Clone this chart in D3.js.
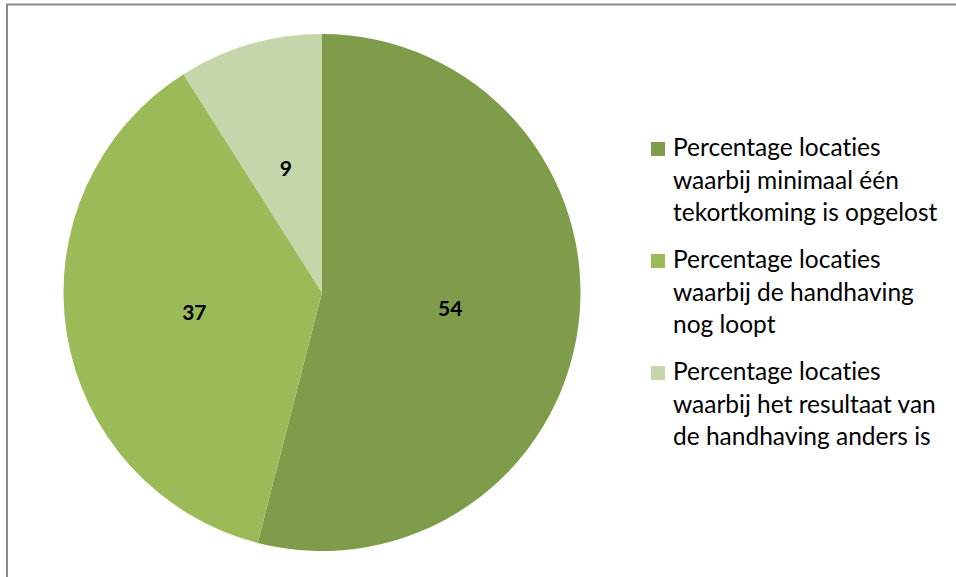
<!DOCTYPE html>
<html lang="nl">
<head>
    <meta charset="UTF-8">
    <title>Percentage locaties</title>
    <script src="https://d3js.org/d3.v7.min.js"></script>
    <style>
        body { margin: 0; background: #fff; }
        svg { display: block; }
        text { font-variant-ligatures: none; font-feature-settings: "liga" 0; }
        .legend text { font-family: Lato, "Open Sans", sans-serif; fill: #000; }
        .label { font-family: Lato, "Open Sans", sans-serif; font-weight: bold; fill: #000; }
    </style>
</head>
<body>
    <svg id="chart"></svg>
    <script>
        // data
        var categories = [
            "Percentage locaties waarbij minimaal één tekortkoming is opgelost",
            "Percentage locaties waarbij de handhaving nog loopt",
            "Percentage locaties waarbij het resultaat van de handhaving anders is"
        ];
        var values = [54, 37, 9];
        var legendLines = [
            ["Percentage locaties", "waarbij minimaal één", "tekortkoming is opgelost"],
            ["Percentage locaties", "waarbij de handhaving", "nog loopt"],
            ["Percentage locaties", "waarbij het resultaat van", "de handhaving anders is"]
        ];
        var colours = ["#7f9c4a", "#9bbb59", "#c5d6aa"];

        var width = 956, height = 577;
        var svg = d3.select("#chart")
            .attr("width", width)
            .attr("height", height);

        // chart area border (right/bottom edges fall outside the picture)
        svg.append("rect")
            .attr("x", 7).attr("y", 4.5)
            .attr("width", 1000).attr("height", 1000)
            .attr("fill", "none")
            .attr("stroke", "#8a8a8a")
            .attr("stroke-width", 2);

        var cx = 322, cy = 292.5, radius = 258.5;

        var color = d3.scaleOrdinal().domain(categories).range(colours);

        var pie = d3.pie().sort(null).value(d => d.value);
        var data = categories.map((c, i) => ({ name: c, value: values[i] }));
        var arcs = pie(data);

        var arc = d3.arc().innerRadius(0).outerRadius(radius);

        var g = svg.append("g")
            .attr("transform", "translate(" + cx + "," + cy + ")");

        g.selectAll("path")
            .data(arcs)
            .enter().append("path")
            .attr("d", arc)
            .attr("fill", d => color(d.data.name));

        // data labels at half the radius
        g.selectAll(".label")
            .data(arcs)
            .enter().append("text")
            .attr("class", "label")
            .attr("x", d => arc.centroid(d)[0])
            .attr("y", d => arc.centroid(d)[1])
            .attr("text-anchor", "middle")
            .attr("dy", "0.35em")
            .style("font-size", "21px")
            .text(d => d.data.value);

        // legend
        var legend = svg.append("g").attr("class", "legend");
        var legY = d3.scalePoint().domain(categories).range([142, 366]);

        var item = legend.selectAll("g")
            .data(categories)
            .enter().append("g")
            .attr("transform", d => "translate(651," + legY(d) + ")");

        item.append("rect")
            .attr("width", 14).attr("height", 14)
            .attr("fill", d => color(d));

        item.append("text")
            .attr("x", 22)
            .style("font-size", "24.5px")
            .selectAll("tspan")
            .data((d, i) => legendLines[i])
            .enter().append("tspan")
            .attr("x", 22)
            .attr("y", (d, i) => 14 + i * 32.5)
            .text(d => d);
    </script>
</body>
</html>
